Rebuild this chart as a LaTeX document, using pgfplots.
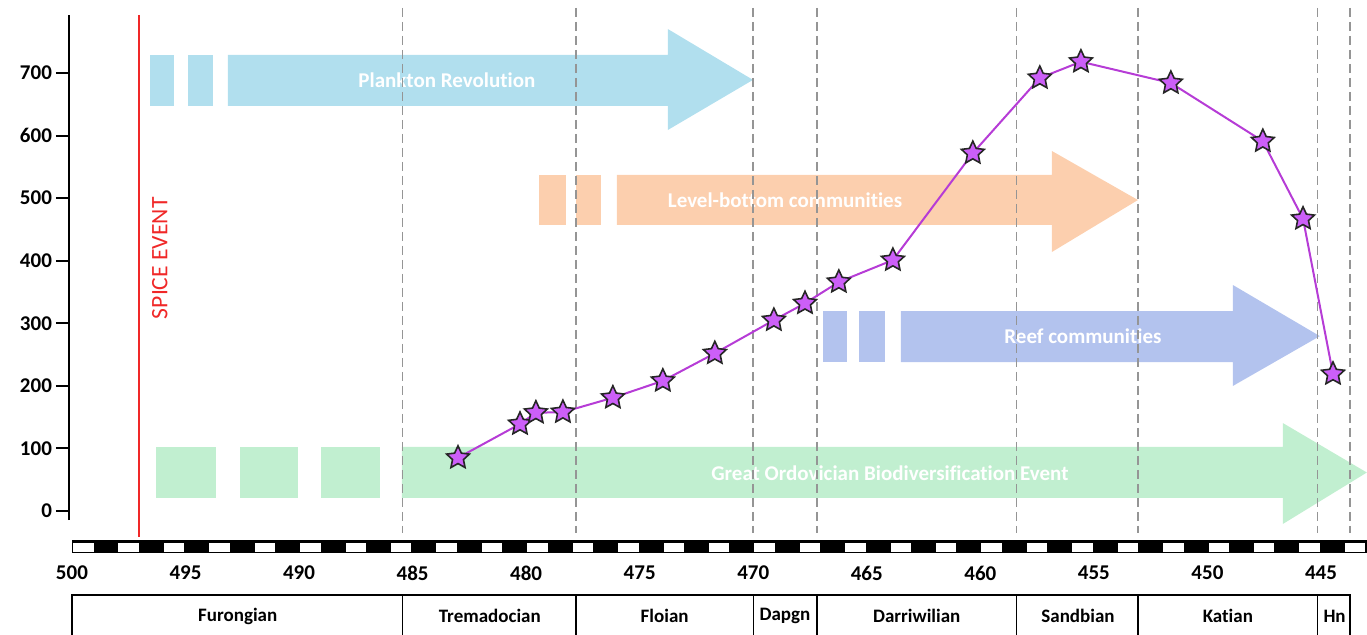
\documentclass[border=0pt]{standalone}
\usepackage{fontspec}
\setmainfont{Carlito}[Ligatures=NoCommon]
\usepackage{pgfplots}
\pgfplotsset{compat=1.18}

\definecolor{plank}{HTML}{B1DFEE}
\definecolor{level}{HTML}{FCCFAE}
\definecolor{reef}{HTML}{B3C3EE}
\definecolor{gobe}{HTML}{C1EFD0}
\definecolor{spice}{HTML}{F02828}
\definecolor{gridgray}{HTML}{959595}
\definecolor{linepurple}{HTML}{B63CD6}
\definecolor{starfill}{HTML}{CC5FF8}

\tikzset{
  stagelbl/.style={font=\bfseries\fontsize{9.5}{11}\selectfont},
  arrowlbl/.style={text=white, font=\bfseries\fontsize{10.5}{12}\selectfont},
}

% filled five-pointed star mark
\pgfdeclareplotmark{fstar}{%
  \pgfpathmoveto{\pgfpointpolar{90}{\pgfplotmarksize}}%
  \foreach \a/\r in {126/0.48,162/1,198/0.48,234/1,270/0.48,306/1,342/0.48,18/1,54/0.48}{%
    \pgfpathlineto{\pgfpointpolar{\a}{\r\pgfplotmarksize}}}%
  \pgfpathclose
  \pgfusepathqfillstroke
}

\begin{document}
\begin{tikzpicture}
\path[use as bounding box] (-34.5pt,-57pt) rectangle (649pt,260pt);
\begin{axis}[
  at={(0,0)}, anchor=south west,
  scale only axis, width=648.7pt, height=252.5pt,
  x dir=reverse, xmin=443, xmax=500.13,
  ymin=-14.4, ymax=792.7,
  clip=false,
  axis x line*=bottom, axis y line*=left,
  x axis line style={draw=none},
  y axis line style={line width=1.2pt},
  xtick={445,450,...,500}, ytick={0,100,...,700},
  xtick style={draw=none},
  ytick style={line width=1pt, black},
  tick align=outside, major tick length=6.5pt,
  /pgf/number format/assume math mode=true,
  ticklabel style={font=\bfseries\fontsize{10.5}{12}\selectfont},
  xticklabel style={anchor=center, yshift=-20pt},
  yticklabel style={xshift=1.5pt},
]

% Great Ordovician Biodiversification Event
\fill[gobe] (axis cs:496.30,20.8) rectangle (axis cs:493.66,102.3);
\fill[gobe] (axis cs:492.60,20.8) rectangle (axis cs:490.05,102.3);
\fill[gobe] (axis cs:489.04,20.8) rectangle (axis cs:486.44,102.3);
\fill[gobe] (axis cs:485.47,20.8) -- (axis cs:446.68,20.8) -- (axis cs:446.68,-20.8)
  -- (axis cs:442.98,61.5) -- (axis cs:446.68,140.6) -- (axis cs:446.68,102.3)
  -- (axis cs:485.47,102.3) -- cycle;
\node[arrowlbl] at (axis cs:463.98,61) {Great Ordovician Biodiversification Event};

% Plankton Revolution
\fill[plank] (axis cs:496.57,647.3) rectangle (axis cs:495.51,728.8);
\fill[plank] (axis cs:494.89,647.3) rectangle (axis cs:493.79,728.8);
\fill[plank] (axis cs:493.13,647.3) -- (axis cs:473.76,647.3) -- (axis cs:473.76,608.9)
  -- (axis cs:470.01,689) -- (axis cs:473.76,770.3) -- (axis cs:473.76,728.8)
  -- (axis cs:493.13,728.8) -- cycle;
\node[arrowlbl] at (axis cs:483.49,689) {Plankton Revolution};

% Level-bottom communities
\fill[level] (axis cs:479.44,457.1) rectangle (axis cs:478.25,537.0);
\fill[level] (axis cs:477.81,457.1) rectangle (axis cs:476.71,537.0);
\fill[level] (axis cs:476.00,457.1) -- (axis cs:456.85,457.1) -- (axis cs:456.85,413.9)
  -- (axis cs:453.06,497) -- (axis cs:456.85,575.4) -- (axis cs:456.85,537.0)
  -- (axis cs:476.00,537.0) -- cycle;
\node[arrowlbl] at (axis cs:468.60,497) {Level-bottom communities};

% Reef communities
\fill[reef] (axis cs:466.93,238.1) rectangle (axis cs:465.87,319.6);
\fill[reef] (axis cs:465.35,238.1) rectangle (axis cs:464.20,319.6);
\fill[reef] (axis cs:463.50,238.1) -- (axis cs:448.88,238.1) -- (axis cs:448.88,199.8)
  -- (axis cs:445.05,279.5) -- (axis cs:448.88,361.2) -- (axis cs:448.88,319.6)
  -- (axis cs:463.50,319.6) -- cycle;
\node[arrowlbl] at (axis cs:455.48,279) {Reef communities};

% stage boundaries
\pgfplotsinvokeforeach{485.45,477.8,470.0,467.2,458.4,453.05,445.15,443.72}{
  \draw[gridgray, dash pattern=on 4.5pt off 2.5pt, line width=0.8pt] (axis cs:#1,803.9) -- (axis cs:#1,-35.2);
}

% SPICE event
\draw[spice, line width=1pt] (axis cs:497.05,792.7) -- (axis cs:497.05,-41.6);
\node[rotate=90, text=spice, font=\fontsize{11.8}{13}\selectfont] at (axis cs:496.13,404) {SPICE EVENT};

% time bar
\fill[black] (axis cs:500,-46.35) rectangle (axis cs:442.98,-67.1);
\pgfplotsinvokeforeach{0,...,28}{
  \fill[white] (axis cs:499.95-2*#1,-51.1) rectangle (axis cs:499.05-2*#1,-65.5);
}

% stages
\draw[line width=0.7pt] (axis cs:500,-230) -- (axis cs:500,-134.2) -- (axis cs:443.72,-134.2) -- (axis cs:443.72,-230);
\pgfplotsinvokeforeach{485.45,477.8,470.0,467.2,458.4,453.05,445.15}{
  \draw[line width=0.7pt] (axis cs:#1,-134.2) -- (axis cs:#1,-230);
}
\node[stagelbl] at (axis cs:492.7,-167.8) {Furongian};
\node[stagelbl] at (axis cs:481.6,-167.8) {Tremadocian};
\node[stagelbl] at (axis cs:473.9,-167.8) {Floian};
\node[stagelbl] at (axis cs:468.6,-167.8) {Dapgn};
\node[stagelbl] at (axis cs:462.8,-167.8) {Darriwilian};
\node[stagelbl] at (axis cs:455.7,-167.8) {Sandbian};
\node[stagelbl] at (axis cs:449.1,-167.8) {Katian};
\node[stagelbl] at (axis cs:444.4,-167.8) {Hn};

% diversity curve
\addplot[color=linepurple, line width=1pt, mark=fstar, mark size=6pt,
  mark options={fill=starfill, draw=black!85, line width=0.8pt, solid}]
coordinates {
  (483.0,85) (480.27,139) (479.57,157) (478.38,158) (476.18,181)
  (473.98,208) (471.69,252) (469.09,305) (467.72,332) (466.23,366)
  (463.85,401) (460.33,572) (457.38,692) (455.57,718) (451.61,684)
  (447.56,591) (445.79,467) (444.47,219)
};
\end{axis}
\end{tikzpicture}
\end{document}
